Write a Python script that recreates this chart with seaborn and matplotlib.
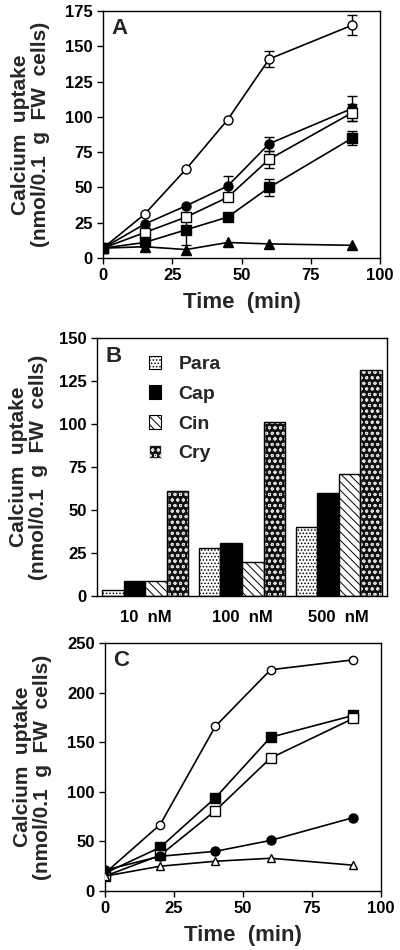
import numpy as np
import pandas as pd
import matplotlib
matplotlib.use("Agg")
import matplotlib.pyplot as plt
import seaborn as sns
from matplotlib.patches import Rectangle, Patch

# ---------------- data ----------------
# Panel A
time_a = [0, 15, 30, 45, 60, 90]
a_open_circle = [7, 31, 63, 98, 141, 165]
a_filled_circle = [7, 24, 37, 51, 81, 106]
a_open_square = [7, 18, 29, 43, 70, 103]
a_filled_square = [7, 11, 20, 29, 50, 85]
a_filled_triangle = [7, 8, 6, 11, 10, 9]
# error bars (0 = none)
a_err_open_circle = [0, 0, 0, 0, 6, 7]
a_err_filled_circle = [0, 0, 0, 7, 5, 9]
a_err_open_square = [0, 0, 0, 0, 6, 6]
a_err_filled_square = [0, 0, 11, 0, 6, 5]

# Panel B
conc_labels = ["10  nM", "100  nM", "500  nM"]
compounds = ["Para", "Cap", "Cin", "Cry"]
b_para = [3.5, 28, 40]
b_cap = [9, 31, 60]
b_cin = [8.5, 20, 71]
b_cry = [61, 101, 131.5]

# Panel C
time_c = [0, 20, 40, 60, 90]
c_open_circle = [18, 67, 166, 223, 233]
c_filled_square = [18, 44, 94, 155, 177]
c_open_square = [15, 36, 81, 134, 174]
c_filled_circle = [21, 35, 40, 51, 74]
c_open_triangle = [15, 25, 30, 33, 26]

# ---------------- style ----------------
sns.set_theme(style="ticks")
plt.rcParams['font.family'] = ['Liberation Sans', 'DejaVu Sans']
plt.rcParams['font.weight'] = 'bold'
plt.rcParams['axes.labelweight'] = 'bold'
plt.rcParams['hatch.linewidth'] = 0.7

fig = plt.figure(figsize=(4.0, 9.5), dpi=100)
axA = fig.add_axes([0.2575, 0.7284, 0.6925, 0.26])
axB = fig.add_axes([0.2425, 0.3726, 0.725, 0.2714])
axC = fig.add_axes([0.2625, 0.0621, 0.69, 0.2611])

ylab = "Calcium  uptake\n(nmol/0.1  g  FW  cells)"
tickfont = dict(fontsize=12, fontweight='bold')

def style_axes(ax, pad):
    for sp in ax.spines.values():
        sp.set_visible(True)
        sp.set_linewidth(1.0)
        sp.set_color('black')
    ax.tick_params(direction='out', length=4, width=1, colors='black', labelsize=12)
    ax.set_ylabel(ylab, fontsize=15, fontweight='bold', linespacing=1.05, labelpad=pad)

def line_series(ax, x, y, marker, filled, ms):
    df = pd.DataFrame({"x": x, "y": y})
    sns.lineplot(data=df, x="x", y="y", ax=ax, color='black', linewidth=1.2,
                 marker=marker, markersize=ms,
                 markerfacecolor='black' if filled else 'white',
                 markeredgecolor='black', markeredgewidth=1.0, zorder=3)

# ---------------- Panel A ----------------
seriesA = [
    (a_open_circle, a_err_open_circle, 'o', False, 6.5),
    (a_filled_circle, a_err_filled_circle, 'o', True, 6.5),
    (a_open_square, a_err_open_square, 's', False, 7),
    (a_filled_square, a_err_filled_square, 's', True, 7),
    (a_filled_triangle, None, '^', True, 6.5),
]
for y, err, m, f, ms in seriesA:
    if err is not None:
        xs = [t for t, e in zip(time_a, err) if e > 0]
        ys = [v for v, e in zip(y, err) if e > 0]
        es = [e for e in err if e > 0]
        axA.errorbar(xs, ys, yerr=es, fmt='none', ecolor='black', elinewidth=1.0,
                     capsize=3.5, capthick=1.0, zorder=2)
    line_series(axA, time_a, y, m, f, ms)
axA.set_xlim(0, 100)
axA.set_ylim(0, 175)
axA.set_xticks([0, 25, 50, 75, 100])
axA.set_xticklabels([str(v) for v in [0, 25, 50, 75, 100]], **tickfont)
axA.set_yticks(range(0, 176, 25))
axA.set_yticklabels([str(v) for v in range(0, 176, 25)], **tickfont)
style_axes(axA, 11)
axA.set_xlabel("Time  (min)", fontsize=16, fontweight='bold', labelpad=6)
axA.text(0.03, 0.97, "A", transform=axA.transAxes, fontsize=16, fontweight='bold',
         va='top', ha='left')

# ---------------- Panel B ----------------
dfB = pd.DataFrame({
    "conc": conc_labels * 4,
    "compound": sum([[c] * 3 for c in compounds], []),
    "value": b_para + b_cap + b_cin + b_cry,
})
fills = ['white', 'black', 'white', '#111111']
sns.barplot(data=dfB, x="conc", y="value", hue="compound", ax=axB,
            palette=fills, width=0.89,
            edgecolor='black', linewidth=1.0, saturation=1, legend=False, errorbar=None)
hatches = {"Para": '.....', "Cap": '', "Cin": '\\\\\\\\', "Cry": 'ooo'}
patches = [p for p in axB.patches if isinstance(p, Rectangle) and p.get_width() > 0]
for i, p in enumerate(patches[:12]):
    comp = compounds[i // 3]
    p.set_hatch(hatches[comp])
    if comp == "Cry":
        p.set_edgecolor('#dddddd')
        axB.add_patch(Rectangle(p.get_xy(), p.get_width(), p.get_height(), fill=False,
                                edgecolor='black', linewidth=1.0, zorder=p.get_zorder() + 0.1))
axB.set_xlim(-0.5, 2.5)
axB.set_ylim(0, 150)
axB.set_yticks(range(0, 151, 25))
axB.set_yticklabels([str(v) for v in range(0, 151, 25)], **tickfont)
axB.set_xticks([0, 1, 2])
axB.set_xticklabels(conc_labels, fontsize=13, fontweight='bold')
style_axes(axB, 8)
axB.tick_params(axis='x', length=0, pad=10)
axB.set_xlabel("")
axB.text(0.03, 0.97, "B", transform=axB.transAxes, fontsize=16, fontweight='bold',
         va='top', ha='left')
handles = []
for comp, fc in zip(compounds, fills):
    ec = '#dddddd' if comp == 'Cry' else 'black'
    handles.append(Patch(facecolor=fc, edgecolor=ec, hatch=hatches[comp], linewidth=0.8))
leg = axB.legend(handles, compounds, loc='upper left',
                 bbox_to_anchor=(0.12, 1.0), frameon=False, handlelength=0.6,
                 handleheight=0.7, labelspacing=0.62, handletextpad=0.9,
                 prop=dict(size=14, weight='bold'))

# ---------------- Panel C ----------------
seriesC = [
    (c_open_circle, 'o', False, 6),
    (c_filled_square, 's', True, 6.5),
    (c_open_square, 's', False, 6.5),
    (c_filled_circle, 'o', True, 6.5),
    (c_open_triangle, '^', False, 5.5),
]
for y, m, f, ms in seriesC:
    line_series(axC, time_c, y, m, f, ms)
axC.set_xlim(0, 100)
axC.set_ylim(0, 250)
axC.set_xticks([0, 25, 50, 75, 100])
axC.set_xticklabels([str(v) for v in [0, 25, 50, 75, 100]], **tickfont)
axC.set_yticks(range(0, 251, 50))
axC.set_yticklabels([str(v) for v in range(0, 251, 50)], **tickfont)
style_axes(axC, 11)
axC.set_xlabel("Time  (min)", fontsize=16, fontweight='bold', labelpad=6)
axC.text(0.03, 0.97, "C", transform=axC.transAxes, fontsize=16, fontweight='bold',
         va='top', ha='left')

fig.savefig("out.png", dpi=100)
